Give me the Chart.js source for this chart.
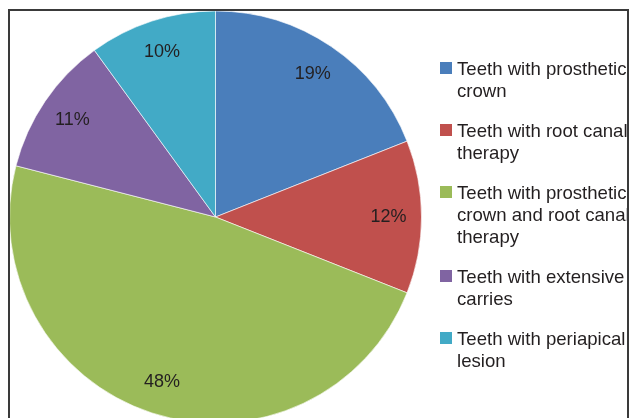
<!DOCTYPE html>
<html>
<head>
<meta charset="utf-8">
<script src="https://cdn.jsdelivr.net/npm/chart.js@4/dist/chart.umd.min.js"></script>
<style>
  html, body { margin: 0; padding: 0; background: #fff; overflow: hidden; }
  body { width: 629px; height: 418px; position: relative; }
  #piechart { position: absolute; left: 0; top: 0; }
  #frame {
    position: absolute; left: 8px; top: 9px; width: 617px; height: 420px;
    border: 2px solid #3a3a3a; border-bottom: none; pointer-events: none;
  }
</style>
</head>
<body>
<canvas id="piechart" width="629" height="440"></canvas>
<div id="frame"></div>
<script>
const canvasId = 'piechart';

// legend text, wrapped as in the original
const categories = [
    ['Teeth with prosthetic', 'crown'],
    ['Teeth with root canal', 'therapy'],
    ['Teeth with prosthetic', 'crown and root canal', 'therapy'],
    ['Teeth with extensive', 'carries'],
    ['Teeth with periapical', 'lesion']
];
const percents = [19, 12, 48, 11, 10];
const sliceColors = ['#4a7ebb', '#c0504d', '#9bbb59', '#8064a2', '#42aac6'];

const textColor = '#231f20';
const fontFamily = '"Liberation Sans", Arial, sans-serif';

// percentage labels inside each slice + the legend on the right
const pieLabels = {
    id: 'pieLabels',
    afterDatasetsDraw(chart) {
        var ctx = chart.ctx;
        var meta = chart.getDatasetMeta(0);
        var values = chart.data.datasets[0].data;
        ctx.save();
        ctx.fillStyle = textColor;
        ctx.font = '18px ' + fontFamily;
        ctx.textAlign = 'center';
        ctx.textBaseline = 'middle';
        meta.data.forEach(function(arc, i) {
            var p = arc.getProps(['x', 'y', 'startAngle', 'endAngle', 'outerRadius'], true);
            var mid = (p.startAngle + p.endAngle) / 2;
            var r = p.outerRadius * 0.84;
            ctx.fillText(values[i] + '%', p.x + Math.cos(mid) * r, p.y + Math.sin(mid) * r);
        });

        // legend
        var x = 440, y = 68;
        ctx.font = '18.6px ' + fontFamily;
        ctx.textAlign = 'left';
        ctx.textBaseline = 'alphabetic';
        chart.data.labels.forEach(function(lines, i) {
            ctx.fillStyle = sliceColors[i];
            ctx.fillRect(x, y - 6, 12, 12);
            ctx.fillStyle = textColor;
            lines.forEach(function(line, j) {
                ctx.fillText(line, x + 17, y + 6.5 + j * 22);
            });
            y += lines.length * 22 + 18;
        });
        ctx.restore();
    }
};

var ctx = document.getElementById(canvasId).getContext('2d');
window[canvasId] = new Chart(ctx, {
    type: 'pie',
    data: {
        labels: categories,
        datasets: [{
            data: percents,
            backgroundColor: sliceColors,
            borderColor: 'rgba(255,255,255,0.6)',
            borderWidth: 1
        }]
    },
    options: {
        responsive: false,
        animation: false,
        layout: {
            padding: { left: 9, top: 10.5, right: 207, bottom: 16.5 }
        },
        plugins: {
            legend: { display: false },
            tooltip: { enabled: false }
        }
    },
    plugins: [pieLabels]
});
</script>
</body>
</html>
